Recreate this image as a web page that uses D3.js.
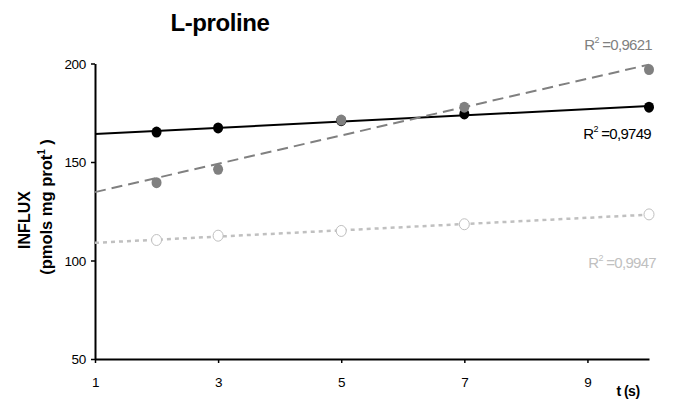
<!DOCTYPE html>
<html lang="en">
<head>
  <meta charset="utf-8">
  <title>L-proline influx</title>
  <script type="text/javascript" src="https://d3js.org/d3.v7.min.js"></script>
  <style>
    body { margin: 0; background: #fff; }
    svg { font-family: "Liberation Sans", Arial, sans-serif; display: block; }
  </style>
</head>
<body>
  <script type="text/javascript">
    var w = 673;
    var h = 407;

    // data
    var times = [2, 3, 5, 7, 10];
    var blackVals = [165.2, 167.3, 171.0, 174.4, 177.8];
    var grayVals = [139.5, 146.3, 171.3, 177.8, 196.9];
    var lightVals = [110.4, 112.6, 115.0, 118.4, 123.4];
    var r2Labels = ["0,9749", "0,9621", "0,9947"];
    var xTicks = [1, 3, 5, 7, 9];
    var yTicks = [50, 100, 150, 200];

    var svg = d3.select("body").append("svg")
      .attr("width", w)
      .attr("height", h);

    var x = d3.scaleLinear().domain([1, 10]).range([95, 649]);
    var y = d3.scaleLinear().domain([50, 200]).range([359, 63.5]);

    // least squares fit for the trend lines
    function fit(xs, ys) {
      var mx = d3.mean(xs), my = d3.mean(ys);
      var sxy = d3.sum(xs, function(v, i) { return (v - mx) * (ys[i] - my); });
      var sxx = d3.sum(xs, function(v) { return (v - mx) * (v - mx); });
      var b = sxy / sxx;
      return function(t) { return my + b * (t - mx); };
    }

    var series = [
      { vals: blackVals, color: "#000", dash: null, width: 2, fill: "#000", r2: r2Labels[0], lx: 651, ly: 139, lcolor: "#000" },
      { vals: grayVals, color: "#808080", dash: "11,6", width: 2, fill: "#808080", r2: r2Labels[1], lx: 652, ly: 50, lcolor: "#808080" },
      { vals: lightVals, color: "#c0c0c0", dash: "4,4", width: 2.5, fill: "#fff", r2: r2Labels[2], lx: 656, ly: 268, lcolor: "#c0c0c0" }
    ];

    // axes
    var xAxis = d3.axisBottom(x).tickValues(xTicks).tickSize(4).tickSizeOuter(0);
    var yAxis = d3.axisLeft(y).tickValues(yTicks).tickSize(4).tickSizeOuter(0);

    var gx = svg.append("g").attr("transform", "translate(0," + y(50) + ")").call(xAxis);
    var gy = svg.append("g").attr("transform", "translate(" + x(1) + ",0)").call(yAxis);

    [gx, gy].forEach(function(g) {
      g.select(".domain").attr("stroke", "#000").attr("stroke-width", 2);
      g.selectAll(".tick line").attr("stroke", "#000").attr("stroke-width", 1.5);
      g.selectAll(".tick text")
        .attr("fill", "#000")
        .style("font-size", "13.5px")
        .style("letter-spacing", "-0.3px");
    });
    gx.selectAll(".tick text").attr("dy", "0").attr("y", 28);
    gy.selectAll(".tick text").attr("x", -9).attr("dy", "0.35em");

    // trend lines and points
    series.forEach(function(s) {
      var f = fit(times, s.vals);
      svg.append("line")
        .attr("x1", x(1)).attr("y1", y(f(1)))
        .attr("x2", x(10)).attr("y2", y(f(10)))
        .attr("stroke", s.color)
        .attr("stroke-width", s.width)
        .attr("stroke-dasharray", s.dash);
    });

    series.forEach(function(s) {
      svg.selectAll(null)
        .data(times)
        .enter()
        .append("ellipse")
        .attr("cx", function(d) { return x(d); })
        .attr("cy", function(d, i) { return y(s.vals[i]); })
        .attr("rx", 5)
        .attr("ry", 5.5)
        .attr("fill", s.fill)
        .attr("stroke", s.color)
        .attr("stroke-width", s.fill === "#fff" ? 1 : 0);

      var t = svg.append("text")
        .attr("x", s.lx)
        .attr("y", s.ly)
        .attr("text-anchor", "end")
        .attr("fill", s.lcolor)
        .style("font-size", "15px")
        .style("letter-spacing", "-0.7px");
      t.append("tspan").text("R");
      t.append("tspan").attr("dy", -7).style("font-size", "9px").text("2");
      t.append("tspan").attr("dy", 7).text(" =" + s.r2);
    });

    // title and axis labels
    svg.append("text")
      .attr("x", 220).attr("y", 31)
      .attr("text-anchor", "middle")
      .style("font-size", "24px")
      .style("font-weight", "bold")
      .style("letter-spacing", "-0.4px")
      .text("L-proline");

    svg.append("text")
      .attr("transform", "translate(30,220) rotate(-90)")
      .attr("text-anchor", "middle")
      .style("font-size", "16px")
      .style("font-weight", "bold")
      .text("INFLUX");

    var yl = svg.append("text")
      .attr("transform", "translate(52,207) rotate(-90)")
      .attr("text-anchor", "middle")
      .style("font-size", "16.5px")
      .style("font-weight", "bold");
    yl.append("tspan").text("(pmols mg prot");
    yl.append("tspan").attr("dy", -7).style("font-size", "10px").text("1");
    yl.append("tspan").attr("dy", 7).text(" )");

    svg.append("text")
      .attr("x", 628).attr("y", 396)
      .attr("text-anchor", "middle")
      .style("font-size", "14px")
      .style("font-weight", "bold")
      .style("letter-spacing", "-0.5px")
      .text("t (s)");
  </script>
</body>
</html>
